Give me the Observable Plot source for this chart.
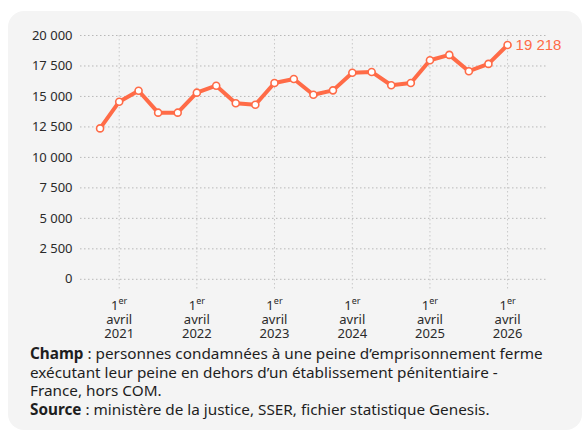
<!DOCTYPE html>
<html>
<head>
<meta charset="utf-8">
<script src="https://cdn.jsdelivr.net/npm/d3@7"></script>
<script src="https://cdn.jsdelivr.net/npm/@observablehq/plot@0.6"></script>
<style>
  html, body { margin: 0; padding: 0; background: #ffffff; width: 584px; height: 432px; overflow: hidden; }
  #card { position: absolute; left: 8px; top: 11px; width: 574px; height: 419px; background: #f4f4f4; border-radius: 16px; }
  #chart { position: absolute; left: 0; top: 0; }
  #caption { position: absolute; left: 30px; top: 344px; width: 550px; font-family: "Noto Sans", sans-serif; font-size: 15.3px; line-height: 18.6px; color: #1e1e1e; white-space: nowrap; }
  #caption b { font-weight: 700; }
</style>
</head>
<body>
<div id="card"></div>
<div id="chart"></div>
<div id="caption">
<b>Champ</b> : personnes condamnées à une peine d’emprisonnement ferme<br>
exécutant leur peine en dehors d’un établissement pénitentiaire -<br>
France, hors COM.<br>
<b>Source</b> : ministère de la justice, SSER, fichier statistique Genesis.
</div>
<script>
const dates = ["2021-01-01","2021-04-01","2021-07-01","2021-10-01",
               "2022-01-01","2022-04-01","2022-07-01","2022-10-01",
               "2023-01-01","2023-04-01","2023-07-01","2023-10-01",
               "2024-01-01","2024-04-01","2024-07-01","2024-10-01",
               "2025-01-01","2025-04-01","2025-07-01","2025-10-01",
               "2026-01-01","2026-04-01"];
const values = [12380, 14570, 15470, 13670, 13670, 15310, 15880, 14440, 14320, 16100, 16430,
                15140, 15500, 16950, 17010, 15920, 16100, 17970, 18410, 17070, 17670, 19218];
const xTicks = ["2021-04-01","2022-04-01","2023-04-01","2024-04-01","2025-04-01","2026-04-01"];
const yTicks = [0, 2500, 5000, 7500, 10000, 12500, 15000, 17500, 20000];

const data = dates.map((d, i) => ({date: new Date(d), value: values[i]}));
const last = data[data.length - 1];
const orange = "#ff6b47";
const fmt = v => d3.format(",")(v).replace(/,/g, " ");

const chart = Plot.plot({
  width: 584,
  height: 348,
  marginLeft: 80,
  marginRight: 38,
  marginTop: 35,
  marginBottom: 57,
  style: { fontFamily: "Noto Sans, sans-serif", background: "transparent" },
  x: { type: "utc", domain: [new Date("2020-10-01"), new Date("2026-10-01")] },
  y: { domain: [-1000, 20000] },
  marks: [
    Plot.gridY(yTicks, { stroke: "#b8b8b8", strokeOpacity: 1, strokeDasharray: "1.5,2.5" }),
    Plot.gridX(xTicks.map(d => new Date(d)), { stroke: "#c8c8c8", strokeOpacity: 1, strokeDasharray: "1.5,2.5" }),
    Plot.axisY(yTicks, { tickSize: 0, tickPadding: 8, fontSize: 13, fill: "#2a2a2a", tickFormat: fmt, label: null }),
    Plot.axisX(xTicks.map(d => new Date(d)), {
      tickSize: 0, tickPadding: 8, fontSize: 13, lineHeight: 1.1, fill: "#2a2a2a", label: null,
      tickFormat: d => "1er\navril\n" + d.getUTCFullYear()
    }),
    Plot.line(data, { x: "date", y: "value", stroke: orange, strokeWidth: 4, strokeLinejoin: "round", strokeLinecap: "round" }),
    Plot.dot(data, { x: "date", y: "value", r: 3.5, fill: "white", stroke: orange, strokeWidth: 1.6 }),
    Plot.text([last], { x: "date", y: "value", text: d => fmt(d.value), dx: 8, textAnchor: "start", fill: orange, fontSize: 15, fontFamily: "Liberation Sans, Arial, sans-serif" })
  ]
});
// turn "1er" into 1 + superscript "er"
chart.querySelectorAll("tspan").forEach(t => {
  if (t.textContent === "1er") {
    t.textContent = "1";
    const sup = document.createElementNS("http://www.w3.org/2000/svg", "tspan");
    sup.setAttribute("font-size", "9");
    sup.setAttribute("baseline-shift", "super");
    sup.textContent = "er";
    t.appendChild(sup);
  }
});
document.getElementById("chart").appendChild(chart);
</script>
</body>
</html>
